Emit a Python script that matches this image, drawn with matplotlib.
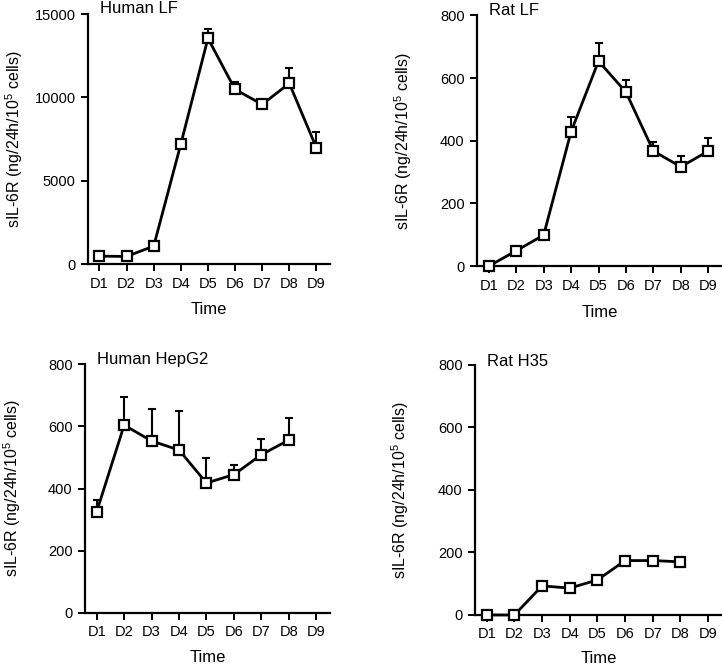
import matplotlib
matplotlib.use("Agg")
import matplotlib.pyplot as plt
import numpy as np

plt.rcParams['font.family'] = ['Liberation Sans', 'DejaVu Sans']
plt.rcParams['mathtext.fontset'] = 'custom'
plt.rcParams['mathtext.rm'] = 'Liberation Sans'

days = ['D1', 'D2', 'D3', 'D4', 'D5', 'D6', 'D7', 'D8', 'D9']

# Human LF
human_lf = [480, 460, 1080, 7200, 13540, 10480, 9580, 10840, 6980]
human_lf_err = [0, 0, 0, 0, 560, 460, 0, 920, 960]

# Rat LF
rat_lf = [0, 49, 99, 429, 654, 555, 367, 317, 367]
rat_lf_err = [0, 0, 0, 48, 57, 39, 28, 34, 41]

# Human HepG2 (no D9)
hepg2 = [326, 604, 553, 524, 418, 445, 509, 556]
hepg2_err = [38, 91, 102, 124, 81, 31, 49, 71]

# Rat H35 (no D9)
h35 = [0, 0, 93, 86, 112, 174, 174, 170]
h35_err = [0, 0, 0, 0, 0, 0, 0, 0]

# title, values, errors, ymax, yticks, axes rect, title y, ylabel x, xlabel y
panels = [
    ('Human LF', human_lf, human_lf_err, 15000, [0, 5000, 10000, 15000],
     [0.122, 0.604, 0.335, 0.375], 1.006, -0.262, -0.152),
    ('Rat LF', rat_lf, rat_lf_err, 800, [0, 200, 400, 600, 800],
     [0.661, 0.601, 0.339, 0.376], 1.0, -0.258, -0.155),
    ('Human HepG2', hepg2, hepg2_err, 800, [0, 200, 400, 600, 800],
     [0.118, 0.081, 0.339, 0.373], 1.0, -0.255, -0.148),
    ('Rat H35', h35, h35_err, 800, [0, 200, 400, 600, 800],
     [0.658, 0.078, 0.342, 0.375], 0.995, -0.258, -0.145),
]

fig = plt.figure(figsize=(7.22, 6.67), dpi=100)

for title, vals, errs, ymax, yticks, rect, ty, ylx, xly in panels:
    ax = fig.add_axes(rect)
    x = np.arange(1, len(vals) + 1)
    ax.errorbar(x, vals, yerr=[np.zeros(len(errs)), errs], fmt='none',
                ecolor='black', elinewidth=1.5, capsize=3, capthick=1.5, zorder=2)
    ax.plot(x, vals, color='black', lw=2, marker='s', ms=7,
            mfc='white', mec='black', mew=1.6, zorder=3, clip_on=False)
    ax.set_xlim(0.58, 9.5)
    ax.set_ylim(0, ymax)
    ax.set_xticks(np.arange(1, 10))
    ax.set_xticklabels(days)
    ax.set_yticks(yticks)
    ax.spines['top'].set_visible(False)
    ax.spines['right'].set_visible(False)
    ax.spines['left'].set_linewidth(1.6)
    ax.spines['bottom'].set_linewidth(1.6)
    ax.tick_params(direction='out', length=5, width=1.4, labelsize=10.5, pad=4)
    ax.text(0.05, ty, title, transform=ax.transAxes, fontsize=12,
            ha='left', va='baseline')
    ax.set_xlabel('Time', fontsize=12)
    ax.set_ylabel(r'sIL-6R (ng/24h/10$^5$ cells)', fontsize=11.5)
    ax.yaxis.set_label_coords(ylx, 0.5)
    ax.xaxis.set_label_coords(0.5, xly)

fig.savefig('out.png', dpi=100)
